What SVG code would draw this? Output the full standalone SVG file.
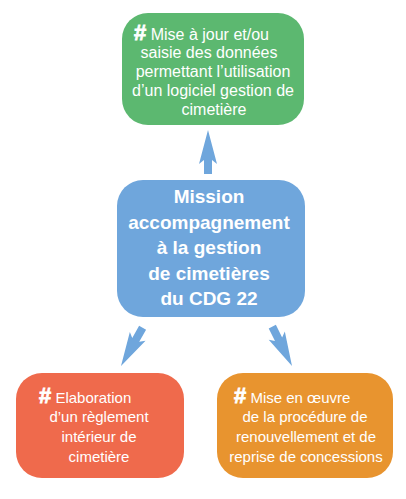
<svg xmlns="http://www.w3.org/2000/svg" width="406" height="499" viewBox="0 0 406 499">
<defs>
<style>
.box{stroke:none}
.t{font-family:"Liberation Sans",Arial,sans-serif;fill:#ffffff;font-size:15px}
.tc{text-anchor:middle}
.hash{font-weight:bold;font-size:22px;stroke:#ffffff;stroke-width:0.8px}
.main{font-family:"Liberation Sans",Arial,sans-serif;fill:#ffffff;font-size:19px;font-weight:bold;text-anchor:middle}
.arrow{fill:#6fa6dc}
</style>
<polygon id="arr" points="0,0 9,34 4,30 4,44 -4,44 -4,30 -9,34"/>
</defs>
<rect width="406" height="499" fill="#ffffff"/>
<g id="connectors" class="arrow">
<use href="#arr" transform="translate(208,130)"/>
<use href="#arr" transform="translate(121,366) rotate(209.4)"/>
<use href="#arr" transform="translate(292,366) rotate(153.4)"/>
</g>
<g id="node-green">
<rect class="box" x="122" y="13" width="182" height="112" rx="26" fill="#5cb870"/>
<text class="t" x="134" y="40" style="font-size:16px"><tspan class="hash">#</tspan> Mise à jour et/ou</text>
<text class="t tc" x="209" y="58" style="font-size:16px">saisie des données</text>
<text class="t tc" x="213" y="77" style="font-size:16px">permettant l’utilisation</text>
<text class="t tc" x="213" y="96" style="font-size:16px">d’un logiciel gestion de</text>
<text class="t tc" x="214" y="115" style="font-size:16px">cimetière</text>
</g>
<g id="node-blue">
<rect class="box" x="117" y="180" width="188" height="137" rx="26" fill="#6fa6dc"/>
<text class="main" x="209" y="203">Mission</text>
<text class="main" x="209" y="229">accompagnement</text>
<text class="main" x="209" y="254">à la gestion</text>
<text class="main" x="209" y="280">de cimetières</text>
<text class="main" x="209" y="305">du CDG 22</text>
</g>
<g id="node-red">
<rect class="box" x="16" y="373" width="168" height="105" rx="26" fill="#ef6a4c"/>
<text class="t" x="39" y="403"><tspan class="hash">#</tspan> Elaboration</text>
<text class="t tc" x="99" y="422">d’un règlement</text>
<text class="t tc" x="99" y="442">intérieur de</text>
<text class="t tc" x="99" y="462">cimetière</text>
</g>
<g id="node-orange">
<rect class="box" x="217" y="373" width="176" height="105" rx="26" fill="#e8942f"/>
<text class="t" x="234" y="403"><tspan class="hash">#</tspan>  Mise en œuvre</text>
<text class="t tc" x="305" y="422">de la procédure de</text>
<text class="t tc" x="306" y="442">renouvellement et de</text>
<text class="t tc" x="306" y="462">reprise de concessions</text>
</g>
</svg>
